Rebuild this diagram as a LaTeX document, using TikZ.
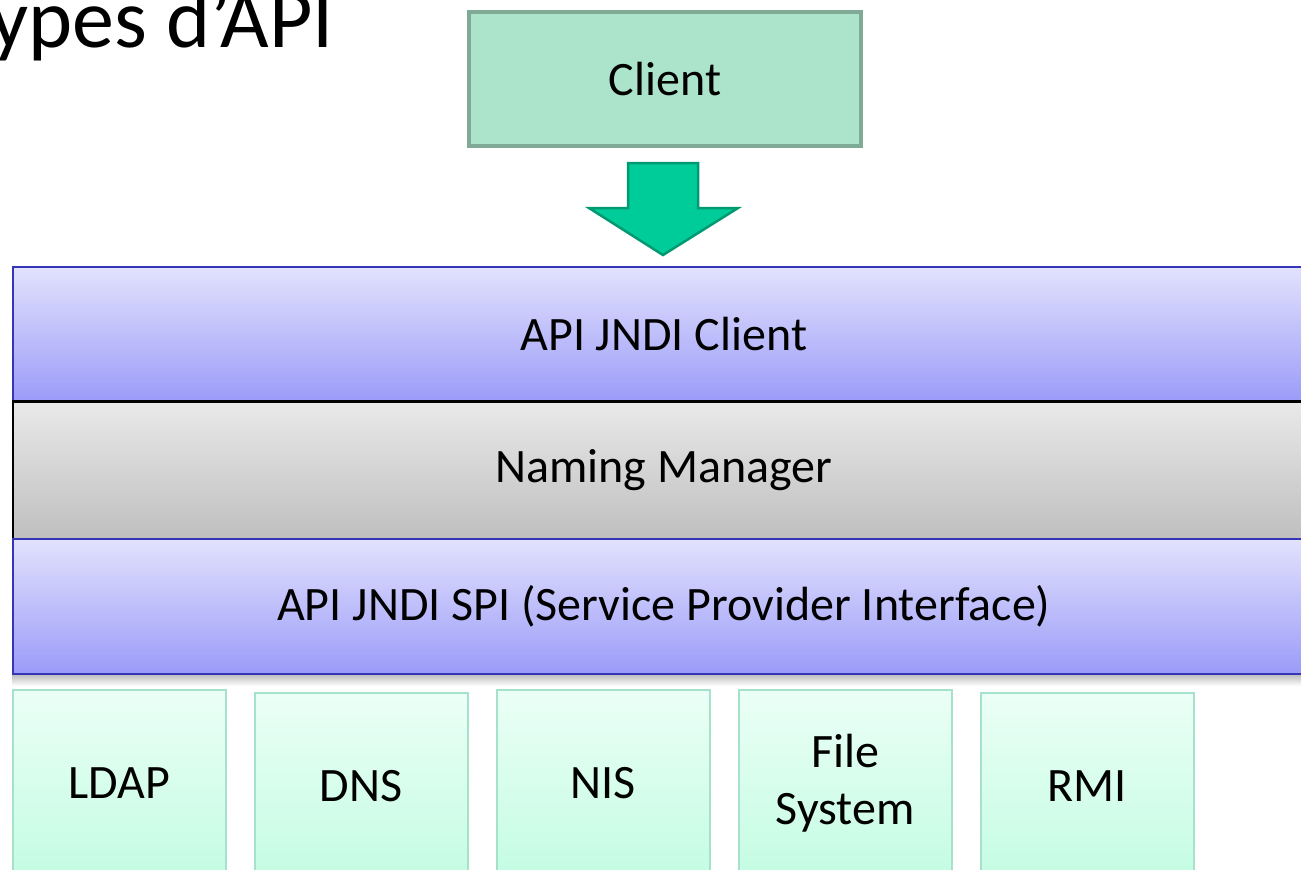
\documentclass[tikz,border=0pt]{standalone}
\usepackage{fontspec}
\setmainfont{Carlito}
\definecolor{clientfill}{HTML}{ABE3CB}
\definecolor{clientdraw}{HTML}{7FAA95}
\definecolor{arrowfill}{HTML}{00CC99}
\definecolor{arrowdraw}{HTML}{009A72}
\definecolor{bandtop}{HTML}{E2E2FD}
\definecolor{bandbot}{HTML}{9B9BF9}
\definecolor{banddraw}{HTML}{3535B5}
\definecolor{greytop}{HTML}{E9E9E9}
\definecolor{greybot}{HTML}{BFBFBF}
\definecolor{provtop}{HTML}{EBFFF6}
\definecolor{provbot}{HTML}{C4FCE3}
\definecolor{provdraw}{HTML}{A6E2CB}
\begin{document}
\begin{tikzpicture}[x=1pt,y=-1pt,
  lbl/.style={font=\fontsize{48}{57}\selectfont, text=black, inner sep=0pt, align=center},
  clientbox/.style={lbl, draw=clientdraw, fill=clientfill, line width=4pt, minimum width=392pt, minimum height=134pt, anchor=north west},
  band/.style={lbl, draw=banddraw, line width=1.5pt, top color=bandtop, bottom color=bandbot, minimum width=1302pt, minimum height=135pt, anchor=north west},
  greyband/.style={lbl, draw=black, line width=1.5pt, top color=greytop, bottom color=greybot, minimum width=1302pt, minimum height=137pt, anchor=north west},
  prov/.style={lbl, draw=provdraw, line width=1.5pt, top color=provtop, bottom color=provbot, minimum width=213pt, minimum height=186pt, anchor=north west}
]
\useasboundingbox (0,0) rectangle (1301,870);
\clip (0,0) rectangle (1301,870);
\fill[white] (0,0) rectangle (1301,870);

% title
\node[anchor=base east, inner sep=0pt, font=\fontsize{84}{100}\selectfont] (title) at (334,47) {ypes d’API};

% client
\node[clientbox] (client) at (467,10) {Client};

% block arrow
\draw[draw=arrowdraw, fill=arrowfill, line width=2.5pt, line join=miter]
  (628,163) -- (698,163) -- (698,208) -- (738,208) -- (663,255) -- (589,208) -- (628,208) -- cycle;

% shadow under SPI band
\shade[top color=black!25, bottom color=white] (12,675) rectangle (1314,686);

% layers
\node[band] (jndiclient) at (12,266) {API JNDI Client};
\node[greyband] (naming) at (12,401) {Naming Manager};
\node[band] (spi) at (12,538) {API JNDI SPI (Service Provider Interface)};
\draw[black, line width=1.5pt] (naming.north west) -- (naming.north east);

% providers
\node[prov] (ldap) at (12,689) {LDAP};
\node[prov] (dns) at (254,692) {DNS};
\node[prov] (nis) at (496,689) {NIS};
\node[prov] (fs) at (738,689) {File\\System};
\node[prov] (rmi) at (980,692) {RMI};
\end{tikzpicture}
\end{document}
